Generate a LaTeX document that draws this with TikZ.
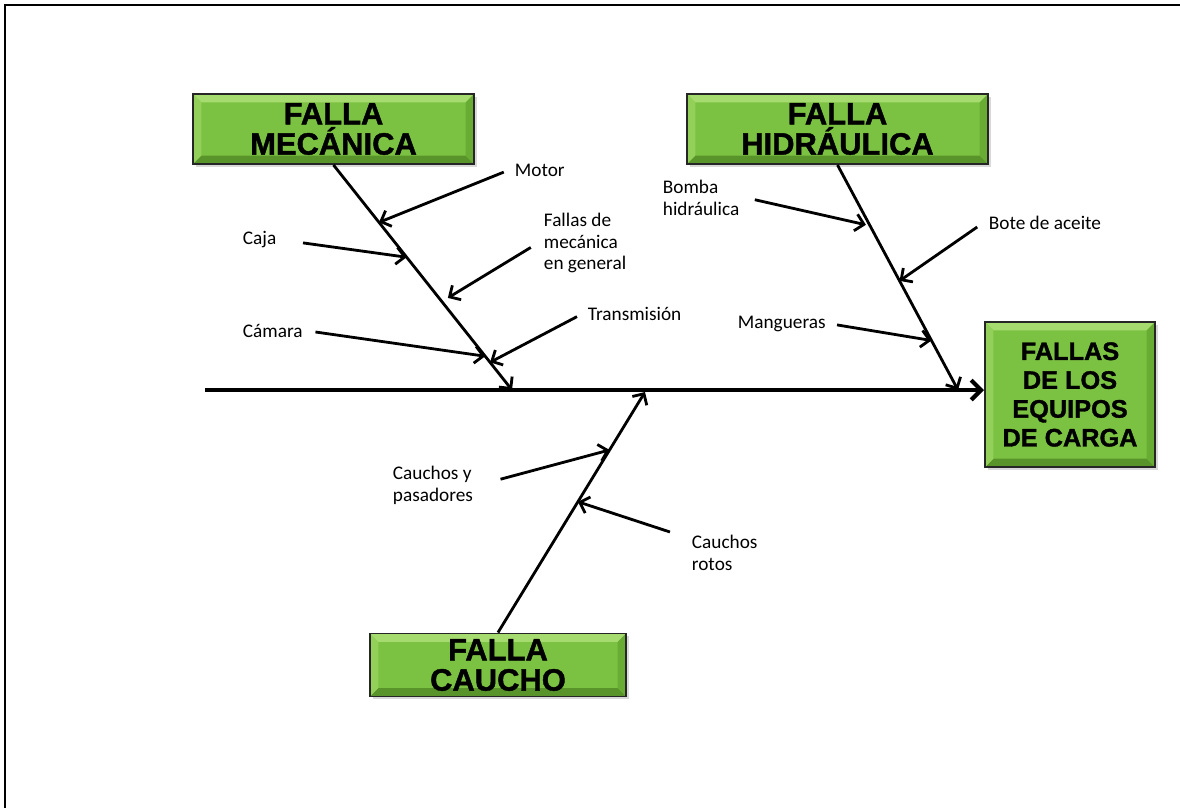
\documentclass[tikz,border=0pt]{standalone}
\usepackage{fontspec}
\setmainfont{Carlito}
\newfontfamily\boxfont[BoldFeatures={FakeBold=1.3}]{Liberation Sans}
\usetikzlibrary{arrows.meta,shadows,calc}

\definecolor{boxgreen}{RGB}{124,194,66}
\definecolor{boxtop}{RGB}{166,219,112}
\definecolor{boxleft}{RGB}{146,208,90}
\definecolor{boxright}{RGB}{104,172,52}
\definecolor{boxbottom}{RGB}{88,148,42}

\tikzset{
  causebox/.style={draw=black!85, line width=1.4pt, fill=boxgreen, align=center, inner sep=0pt,
    font=\boxfont\bfseries\fontsize{22}{21.5}\selectfont,
    drop shadow={opacity=0.3, shadow xshift=2pt, shadow yshift=-2pt},
    path picture={
      \coordinate (pp-sw) at (path picture bounding box.south west);
      \coordinate (pp-ne) at (path picture bounding box.north east);
      \coordinate (pp-nw) at (pp-sw |- pp-ne);
      \coordinate (pp-se) at (pp-ne |- pp-sw);
      \fill[boxtop] (pp-nw) -- (pp-ne) -- ([shift={(-6pt,-6pt)}]pp-ne) -- ([shift={(6pt,-6pt)}]pp-nw) -- cycle;
      \fill[boxbottom] (pp-sw) -- (pp-se) -- ([shift={(-6pt,6pt)}]pp-se) -- ([shift={(6pt,6pt)}]pp-sw) -- cycle;
      \fill[boxleft] (pp-nw) -- ([shift={(6pt,-6pt)}]pp-nw) -- ([shift={(6pt,6pt)}]pp-sw) -- (pp-sw) -- cycle;
      \fill[boxright] (pp-ne) -- (pp-se) -- ([shift={(-6pt,6pt)}]pp-se) -- ([shift={(-6pt,-6pt)}]pp-ne) -- cycle;
    }},
  subcausa/.style={font=\fontsize{13.7}{15.5}\selectfont, align=left, inner sep=4pt},
  flecha/.style={line width=2pt, -{Straight Barb[length=6pt,width=12pt]}},
  espina/.style={line width=3pt, -{Straight Barb[length=7pt,width=14pt]}}
}

\begin{document}
\begin{tikzpicture}[x=0.025cm,y=-0.025cm]
	\useasboundingbox (0,0) rectangle (1180,808);
	\draw[line width=1.5pt] (5,808) -- (5,5) -- (1180,5);
	
	\node[causebox, minimum width=7.025cm, minimum height=1.75cm] (mec) at (333.5,129) {FALLA\\MECÁNICA};
	\node[causebox, minimum width=7.525cm, minimum height=1.75cm] (hid) at (837.5,129) {FALLA\\HIDRÁULICA};
	\node[causebox, minimum width=6.4cm, minimum height=1.575cm] (cau) at (498,665) {FALLA\\CAUCHO};
	\node[causebox, font=\boxfont\bfseries\fontsize{18}{20.5}\selectfont, minimum width=4.25cm, minimum height=3.625cm] (res) at (1070,394.5) {FALLAS\\DE LOS\\EQUIPOS\\DE CARGA};
	
	\coordinate (cola) at (205,390);
	\draw[espina] (cola) -- (cola -| res.west);
	
	\coordinate (mecfin) at (512,390);
	\coordinate (hidfin) at (958,390);
	\coordinate (caufin) at (645,392);
	\draw[flecha] (mec.south) -- (mecfin);
	\draw[flecha] (hid.south) -- (hidfin);
	\draw[flecha] (cau.north) -- (caufin);
	
	\node[subcausa, anchor=west] (motor) at (509,170) {Motor};
	\node[subcausa, anchor=west] (caja) at (237,240) {Caja};
	\node[subcausa, anchor=north west] (general) at (538,207) {Fallas de\\mecánica\\en general};
	\node[subcausa, anchor=west] (camara) at (237,331) {Cámara};
	\node[subcausa, anchor=west] (trans) at (582,314) {Transmisión};
	\draw[flecha, shorten <=4pt] (motor.west) -- ($(mec.south)!0.255!(mecfin)$);
	\draw[flecha, shorten <=15pt] (caja.east) -- ($(mec.south)!0.41!(mecfin)$);
	\draw[flecha, shorten <=6pt, shorten >=5pt] (general.west) -- ($(mec.south)!0.607!(mecfin)$);
	\draw[flecha, shorten <=5pt] (camara.east) -- ($(mec.south)!0.85!(mecfin)$);
	\draw[flecha, shorten <=4pt] (trans.west) -- ($(mec.south)!0.877!(mecfin)$);
	
	\node[subcausa, anchor=north west] (bomba) at (657,174) {Bomba\\hidráulica};
	\node[subcausa, anchor=west] (aceite) at (983,223) {Bote de aceite};
	\node[subcausa, anchor=west] (mangueras) at (732,324) {Mangueras};
	\draw[flecha, shorten <=7pt, shorten >=3pt] (bomba.east) -- ($(hid.south)!0.27!(hidfin)$);
	\draw[flecha, shorten <=5pt] (aceite.west) -- ($(hid.south)!0.515!(hidfin)$);
	\draw[flecha, shorten <=4pt] (mangueras.east) -- ($(hid.south)!0.78!(hidfin)$);
	
	\node[subcausa, anchor=north west] (pasadores) at (387,460) {Cauchos y\\pasadores};
	\node[subcausa, anchor=north west] (rotos) at (686,529) {Cauchos\\rotos};
	\draw[flecha, shorten <=16pt] (pasadores.east) -- ($(cau.north)!0.759!(caufin)$);
	\draw[flecha, shorten <=12pt] ($(rotos.north west)!0.35!(rotos.west)$) -- ($(cau.north)!0.5436!(caufin)$);
\end{tikzpicture}
\end{document}
